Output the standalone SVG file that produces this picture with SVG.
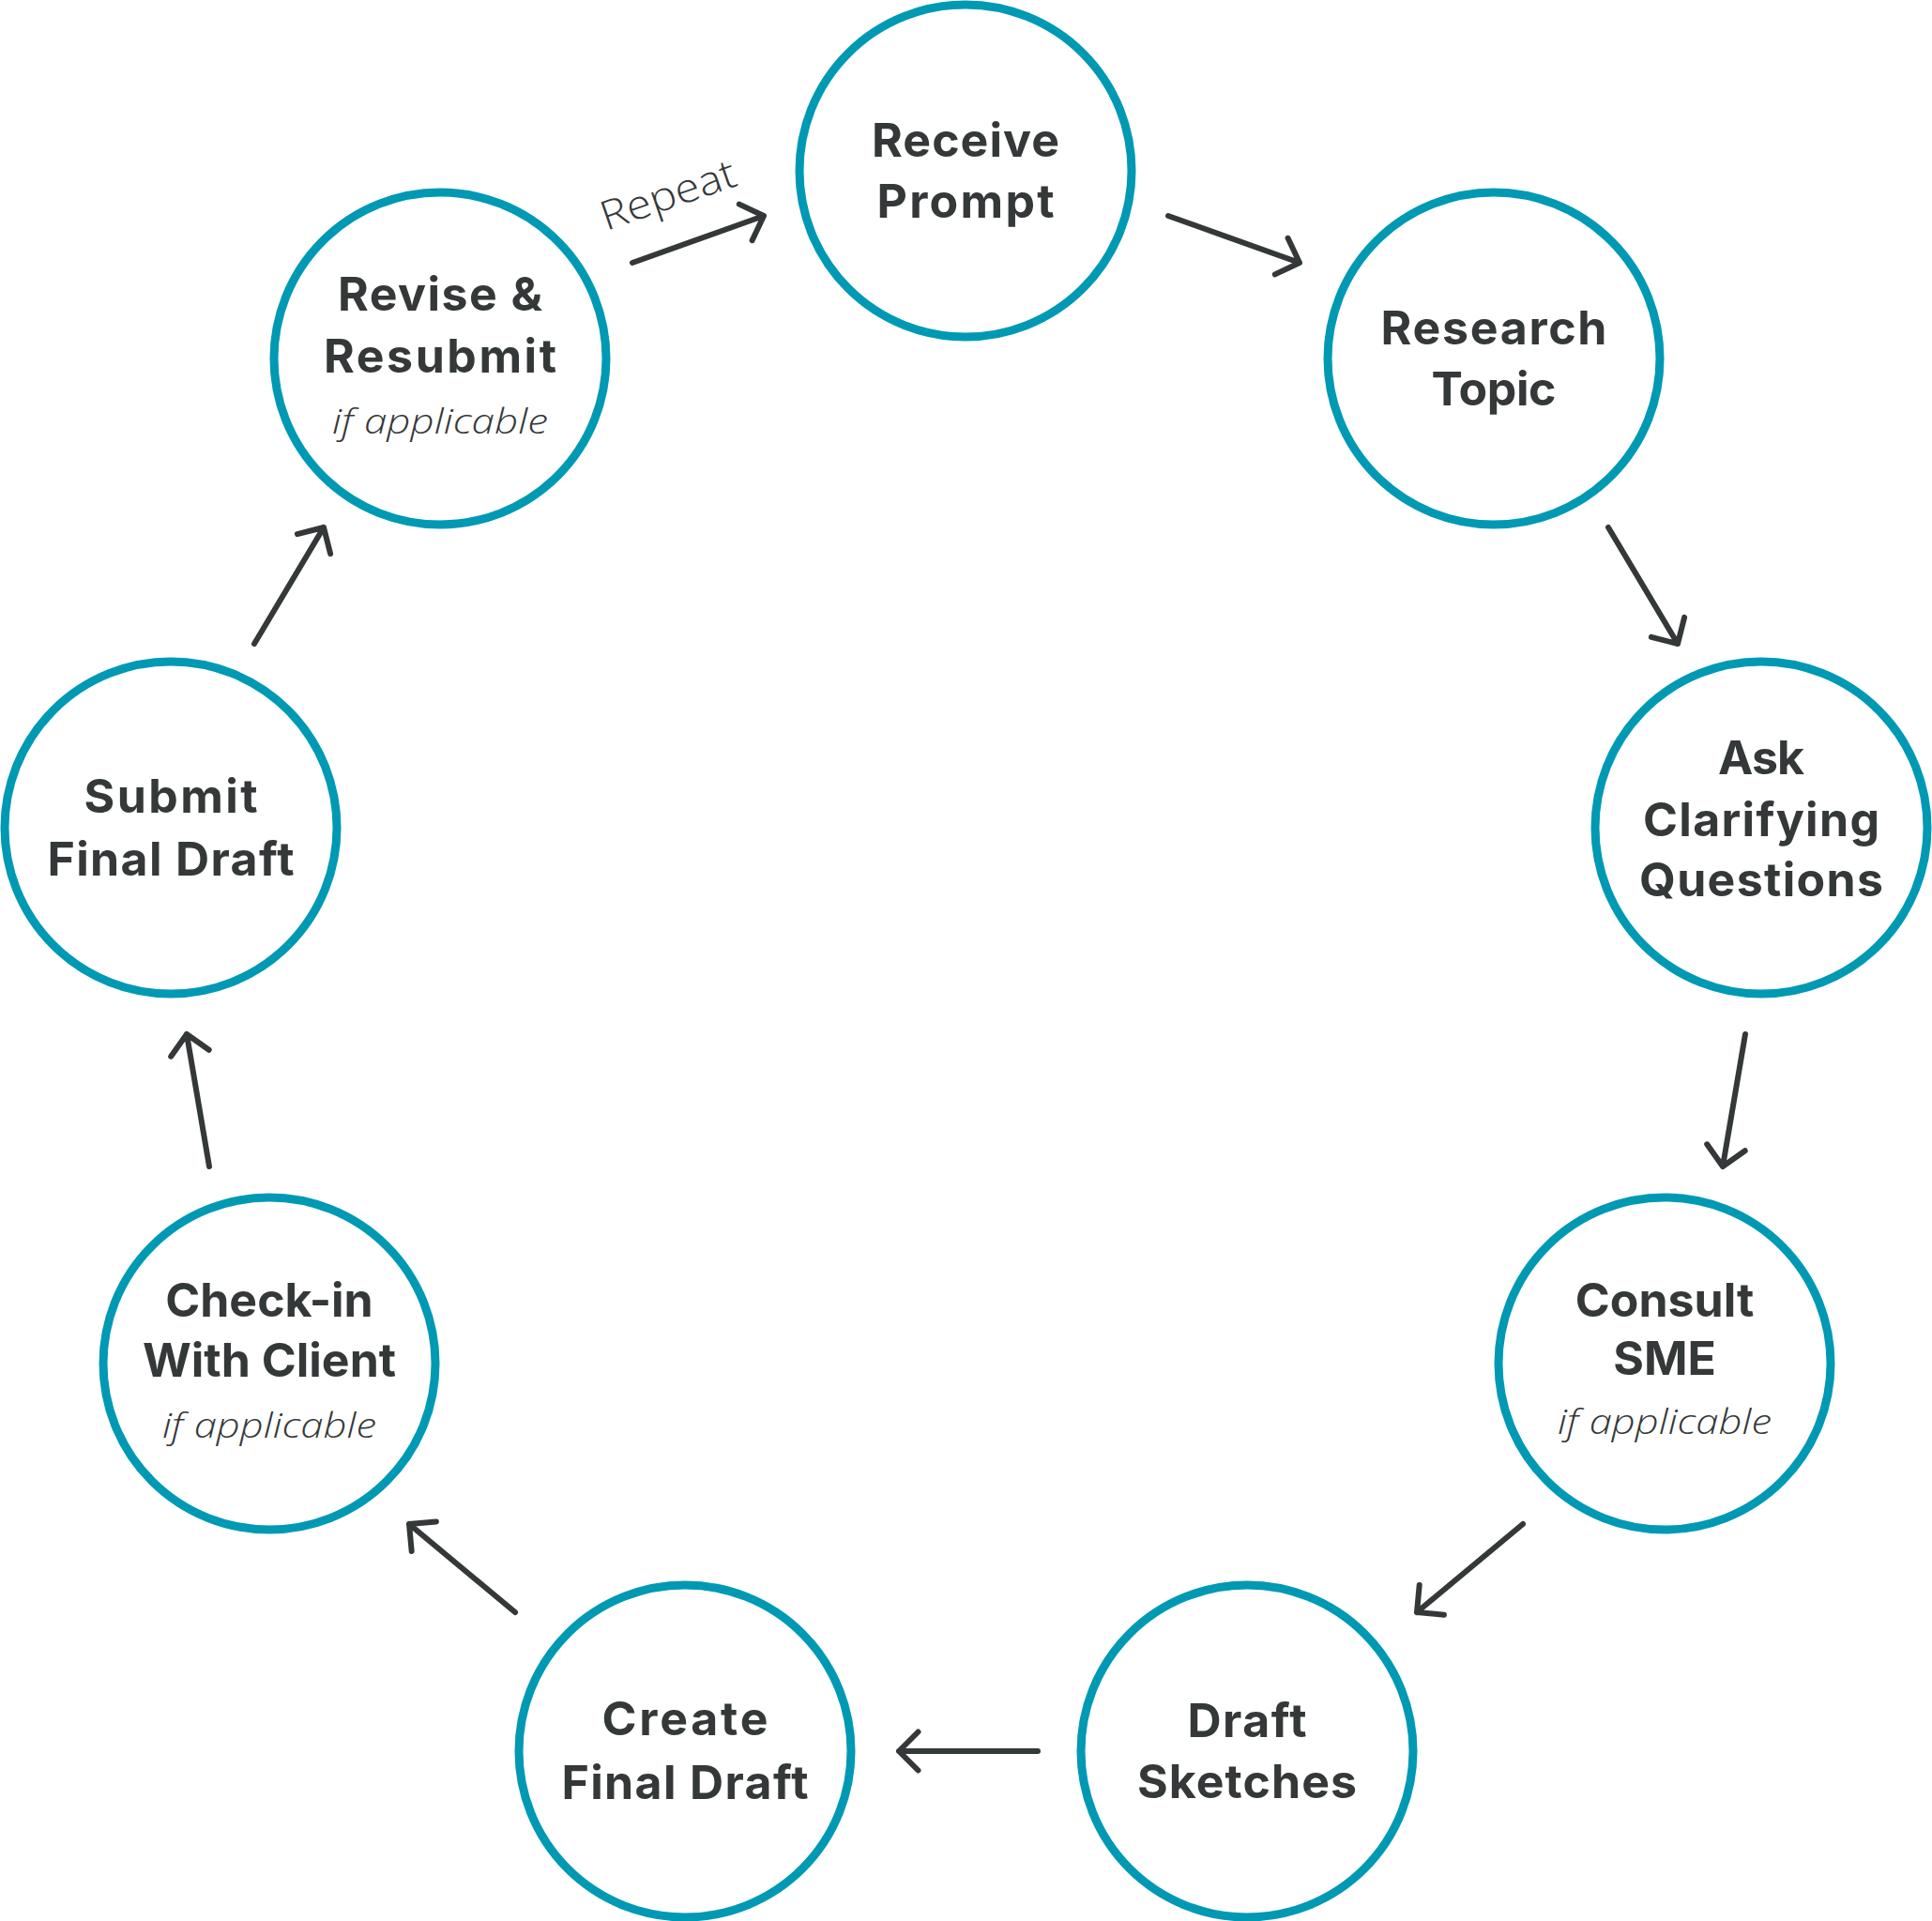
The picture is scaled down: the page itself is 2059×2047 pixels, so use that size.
<svg xmlns="http://www.w3.org/2000/svg" width="2059" height="2047" viewBox="0 0 2059 2047">
<style>
.node circle{fill:#fff;stroke:#0099B4;stroke-width:9}
.t{font-family:Inter,"Liberation Sans",sans-serif;font-weight:700;font-size:50px;fill:#343839;text-anchor:middle}
.i{font-family:"Open Sans",Lato,sans-serif;font-style:italic;font-weight:300;font-size:37px;fill:#343839;text-anchor:middle}
.r{font-family:"Open Sans",Lato,sans-serif;font-weight:300;font-size:43px;fill:#343839}
#connectors path{fill:none;stroke:#343839;stroke-width:6;stroke-linecap:round;stroke-linejoin:round}
</style>
<rect width="2059" height="2047" fill="#fff"/>
<g id="connectors">
<path d="M1245,230 L1385,280 M1372.6,253.8 L1385,280 L1358.8,292.4"/>
<path d="M1714,562 L1788,686 M1795.1,657.9 L1788,686 L1759.9,678.9"/>
<path d="M1860,1102 L1836,1243 M1859.7,1226.2 L1836,1243 L1819.2,1219.3"/>
<path d="M1623,1624 L1510,1718 M1538.9,1720.7 L1510,1718 L1512.7,1689.1"/>
<path d="M1106,1866 L958,1866 M978.5,1845.5 L958,1866 L978.5,1886.5"/>
<path d="M549,1718 L436,1624 M438.7,1652.9 L436,1624 L464.9,1621.4"/>
<path d="M223,1243 L199,1102 M182.2,1125.7 L199,1102 L222.7,1118.8"/>
<path d="M271,686 L345,562 M316.9,569.1 L345,562 L352.1,590.1"/>
<path d="M674,280 L814,230 M787.8,217.6 L814,230 L801.6,256.2"/>
<text class="r" transform="translate(646,246) rotate(-19)" textLength="150" lengthAdjust="spacingAndGlyphs">Repeat</text>
</g>
<g id="receive-prompt" class="node">
<circle cx="1029" cy="182" r="177"/>
<text class="t" x="1029" y="167" textLength="200">Receive</text>
<text class="t" x="1029" y="232" textLength="189">Prompt</text>
</g>
<g id="research-topic" class="node">
<circle cx="1592" cy="382" r="177"/>
<text class="t" x="1592" y="367" textLength="241">Research</text>
<text class="t" x="1592" y="432" textLength="133">Topic</text>
</g>
<g id="ask-clarifying-questions" class="node">
<circle cx="1877" cy="882" r="177"/>
<text class="t" x="1877" y="825" textLength="92">Ask</text>
<text class="t" x="1877" y="891" textLength="252">Clarifying</text>
<text class="t" x="1877" y="955" textLength="260">Questions</text>
</g>
<g id="consult-sme" class="node">
<circle cx="1774" cy="1453" r="177"/>
<text class="t" x="1774" y="1403">Consult</text>
<text class="t" x="1774" y="1465">SME</text>
<text class="i" x="1774" y="1528" textLength="228" lengthAdjust="spacingAndGlyphs">if applicable</text>
</g>
<g id="draft-sketches" class="node">
<circle cx="1329" cy="1866" r="177"/>
<text class="t" x="1329" y="1851" textLength="127">Draft</text>
<text class="t" x="1329" y="1916" textLength="234">Sketches</text>
</g>
<g id="create-final-draft" class="node">
<circle cx="730" cy="1866" r="177"/>
<text class="t" x="730" y="1849" textLength="177">Create</text>
<text class="t" x="730" y="1917" textLength="263">Final Draft</text>
</g>
<g id="check-in-with-client" class="node">
<circle cx="287" cy="1453" r="177"/>
<text class="t" x="287" y="1403">Check-in</text>
<text class="t" x="287" y="1467">With Client</text>
<text class="i" x="287" y="1532" textLength="228" lengthAdjust="spacingAndGlyphs">if applicable</text>
</g>
<g id="submit-final-draft" class="node">
<circle cx="182" cy="882" r="177"/>
<text class="t" x="182" y="866" textLength="185">Submit</text>
<text class="t" x="182" y="933" textLength="263">Final Draft</text>
</g>
<g id="revise-resubmit" class="node">
<circle cx="469" cy="382" r="177"/>
<text class="t" x="469" y="331" textLength="218">Revise &amp;</text>
<text class="t" x="469" y="397" textLength="248">Resubmit</text>
<text class="i" x="469" y="462" textLength="230" lengthAdjust="spacingAndGlyphs">if applicable</text>
</g>
</svg>
